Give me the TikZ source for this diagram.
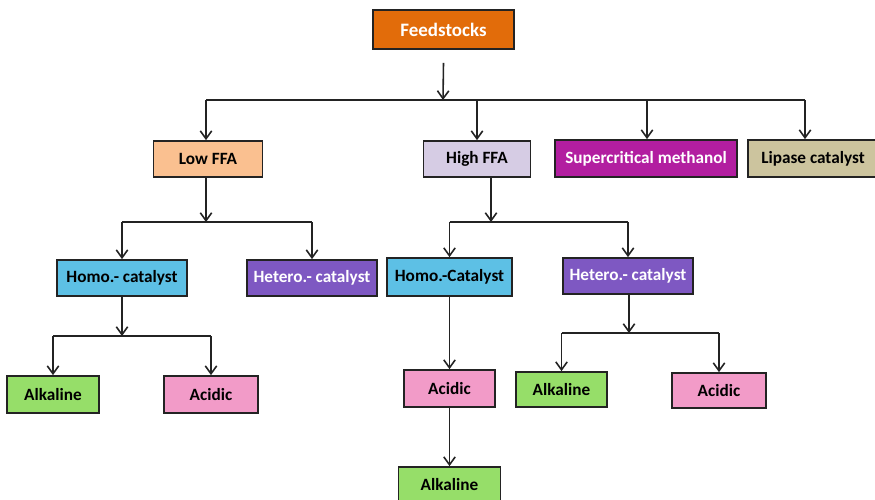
\documentclass[tikz,border=0pt]{standalone}
\usepackage{fontspec}
\setmainfont{Carlito}
\usepackage{xcolor}
\usetikzlibrary{arrows.meta}
\definecolor{org}{RGB}{226, 108, 10}
\definecolor{pch}{RGB}{250, 192, 144}
\definecolor{lav}{RGB}{214, 204, 228}
\definecolor{mag}{RGB}{178, 30, 160}
\definecolor{tan}{RGB}{204, 196, 158}
\definecolor{sky}{RGB}{93, 192, 229}
\definecolor{pur}{RGB}{126, 88, 194}
\definecolor{grn}{RGB}{150, 222, 105}
\definecolor{pnk}{RGB}{242, 155, 200}
\definecolor{brd}{RGB}{35, 35, 35}

\begin{document}
\begin{tikzpicture}[x=0.02cm, y=-0.02cm,
    box/.style={draw=brd, line width=1pt, inner sep=0pt, font=\bfseries\fontsize{9.8}{11}\selectfont},
    arr/.style={-{Straight Barb[length=4.5pt, width=6.5pt]}, line width=0.9pt, draw=brd},
    bus/.style={line width=0.9pt, draw=brd}]
      \fill[white] (0,0) rectangle (875,500);
      \useasboundingbox (0,0) rectangle (875,500);
      % boxes
      \node[box, fill=org, text=white, minimum width=2.82cm, minimum height=0.78cm, font=\bfseries\fontsize{10.8}{12}\selectfont] (feed) at (443.5,29.5) {Feedstocks};
      \node[box, fill=pch, minimum width=2.18cm, minimum height=0.72cm] (low) at (208,159) {Low FFA};
      \node[box, fill=lav, minimum width=2.14cm, minimum height=0.72cm] (high) at (477,159) {High FFA};
      \node[box, fill=mag, text=white, minimum width=3.64cm, minimum height=0.74cm] (super) at (646,158.5) {Supercritical methanol};
      \node[box, fill=tan, minimum width=2.6cm, minimum height=0.74cm] (lipase) at (813,158.5) {Lipase catalyst};
      \node[box, fill=sky, minimum width=2.6cm, minimum height=0.72cm] (homoL) at (122,278) {Homo.- catalyst};
      \node[box, fill=pur, text=white, minimum width=2.6cm, minimum height=0.72cm] (heteroL) at (312,278) {Hetero.- catalyst};
      \node[box, fill=sky, minimum width=2.5cm, minimum height=0.76cm] (homoR) at (449.5,277) {Homo.-Catalyst};
      \node[box, fill=pur, text=white, minimum width=2.6cm, minimum height=0.72cm] (heteroR) at (628,276) {Hetero.- catalyst};
      \node[box, fill=grn, minimum width=1.84cm, minimum height=0.74cm] (alkL) at (53,394.5) {Alkaline};
      \node[box, fill=pnk, minimum width=1.88cm, minimum height=0.74cm] (acidL) at (211,394.5) {Acidic};
      \node[box, fill=pnk, minimum width=1.82cm, minimum height=0.74cm] (acidM) at (449.5,388.5) {Acidic};
      \node[box, fill=grn, minimum width=2.04cm, minimum height=0.72cm] (alkM) at (449.5,485) {Alkaline};
      \node[box, fill=grn, minimum width=1.82cm, minimum height=0.7cm] (alkR) at (561.5,389.5) {Alkaline};
      \node[box, fill=pnk, minimum width=1.88cm, minimum height=0.7cm] (acidR) at (719,390.5) {Acidic};
      % junctions
      \coordinate (j0) at (443,100);
      \coordinate (jL) at (206,222);
      \coordinate (jH) at (491,222);
      \coordinate (jHL) at (122,336);
      \coordinate (jHR) at (629,333);
      % feedstocks
      \draw[arr] ([yshift=-0.26cm]feed.south) -- (j0);
      \draw[bus] (206,100) -- (805,100);
      \foreach \x/\n in {206/low, 477/high, 647/super, 805/lipase}
        \draw[arr] (\x,100) -- (\x,100 |- \n.north);
      % low FFA
      \draw[arr] (jL |- low.south) -- (jL);
      \draw[bus] (homoL.north |- jL) -- (heteroL.north |- jL);
      \draw[arr] (homoL.north |- jL) -- (homoL.north);
      \draw[arr] (heteroL.north |- jL) -- (heteroL.north);
      % high FFA
      \draw[arr] (jH |- high.south) -- (jH);
      \draw[bus] (homoR.north |- jH) -- (heteroR.north |- jH);
      \draw[arr] (homoR.north |- jH) -- (homoR.north);
      \draw[arr] (heteroR.north |- jH) -- (heteroR.north);
      % homo left
      \draw[arr] (homoL.south) -- (jHL);
      \draw[bus] (alkL.north |- jHL) -- (acidL.north |- jHL);
      \draw[arr] (alkL.north |- jHL) -- (alkL.north);
      \draw[arr] (acidL.north |- jHL) -- (acidL.north);
      % homo right
      \draw[arr] (homoR.south) -- (acidM.north);
      \draw[arr] (acidM.south) -- (alkM.north);
      % hetero right
      \draw[arr] (jHR |- heteroR.south) -- (jHR);
      \draw[bus] (alkR.north |- jHR) -- (acidR.north |- jHR);
      \draw[arr] (alkR.north |- jHR) -- (alkR.north);
      \draw[arr] (acidR.north |- jHR) -- (acidR.north);
    \end{tikzpicture}
\end{document}
